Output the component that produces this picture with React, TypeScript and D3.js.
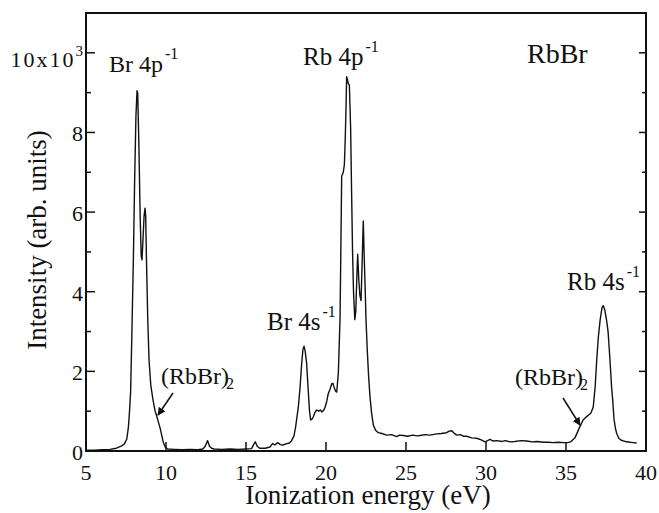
import * as d3 from 'd3';

// photoelectron spectrum of RbBr, intensity in units of 10^3
const energy = [
  5.0, 5.5, 6.0, 6.5, 6.9, 7.2, 7.4, 7.55, 7.65, 7.72, 7.79, 7.87, 7.96, 8.04, 8.12, 8.19, 8.23,
  8.3, 8.38, 8.45, 8.5, 8.56, 8.63, 8.69, 8.73, 8.78, 8.86, 8.94, 9.05, 9.2, 9.32, 9.42, 9.53,
  9.63, 9.73, 9.83, 9.95, 10.1, 10.5, 11.0, 11.5, 12.0, 12.3, 12.45, 12.6, 12.72, 12.85, 13.0,
  13.5, 14.0, 14.5, 15.0, 15.35, 15.5, 15.58, 15.7, 15.85, 16.2, 16.5, 16.67, 16.8, 16.98, 17.15,
  17.3, 17.5, 17.71, 17.85, 18.0, 18.1, 18.2, 18.27, 18.38, 18.48, 18.56, 18.63, 18.7, 18.79,
  18.9, 18.97, 19.04, 19.12, 19.21, 19.32, 19.42, 19.55, 19.65, 19.73, 19.85, 19.94, 20.05,
  20.14, 20.25, 20.36, 20.43, 20.5, 20.6, 20.67, 20.77, 20.88, 20.94, 20.98, 21.08, 21.15, 21.2,
  21.25, 21.29, 21.33, 21.39, 21.46, 21.54, 21.6, 21.66, 21.72, 21.8, 21.86, 21.93, 21.98, 22.05,
  22.12, 22.19, 22.25, 22.33, 22.38, 22.44, 22.5, 22.58, 22.66, 22.75, 22.85, 22.96, 23.1, 23.27,
  23.5, 23.79, 24.1, 24.42, 24.6, 24.83, 25.1, 25.4, 25.7, 25.88, 26.2, 26.5, 26.92, 27.2, 27.54,
  27.7, 27.86, 28.0, 28.17, 28.4, 28.6, 28.79, 29.1, 29.42, 29.7, 29.94, 30.1, 30.25, 30.45, 30.67,
  31.0, 31.2, 31.5, 31.8, 32.2, 32.54, 32.9, 33.2, 33.58, 33.9, 34.2, 34.5, 34.83, 35.1, 35.3,
  35.56, 35.8, 36.07, 36.25, 36.4, 36.55, 36.7, 36.82, 36.92, 37.02, 37.13, 37.25, 37.33, 37.42,
  37.53, 37.63, 37.75, 37.85, 37.92, 38.0, 38.1, 38.17, 38.3, 38.45, 38.7, 39.0, 39.2, 39.42,
];
const intensity = [
  0.02, 0.02, 0.03, 0.04, 0.07, 0.12, 0.18, 0.3, 0.6, 1.0, 1.5, 3.0, 4.8, 6.8, 8.4, 9.05, 9.0,
  7.8, 6.0, 4.9, 4.8, 5.3, 5.9, 6.1, 5.9, 4.8, 3.3, 2.28, 1.65, 1.25, 1.0, 0.88, 0.72,
  0.58, 0.4, 0.22, 0.1, 0.05, 0.04, 0.03, 0.04, 0.03, 0.05, 0.12, 0.26, 0.12, 0.07, 0.05,
  0.04, 0.05, 0.04, 0.05, 0.06, 0.18, 0.23, 0.12, 0.07, 0.07, 0.1, 0.19, 0.15, 0.21, 0.16,
  0.15, 0.18, 0.2, 0.26, 0.38, 0.6, 0.9, 1.1, 1.6, 2.2, 2.55, 2.63, 2.5, 2.2,
  1.45, 1.0, 0.78, 0.8, 0.86, 0.98, 1.03, 1.0, 1.03, 0.98, 1.02, 1.1, 1.25,
  1.44, 1.55, 1.69, 1.7, 1.61, 1.5, 1.48, 1.95, 3.36, 5.5, 6.9, 7.0, 7.2, 7.8,
  8.6, 9.4, 9.35, 9.23, 9.19, 8.1, 6.5, 5.0, 4.0, 3.3, 3.5, 4.4, 4.94, 4.3,
  3.9, 3.78, 4.6, 5.78, 5.0, 4.19, 3.3, 2.53, 1.9, 1.36, 0.95, 0.65, 0.52, 0.46,
  0.44, 0.4, 0.41, 0.36, 0.4, 0.39, 0.37, 0.4, 0.38, 0.39, 0.41, 0.4, 0.43, 0.44, 0.46,
  0.5, 0.51, 0.45, 0.4, 0.41, 0.37, 0.37, 0.33, 0.32, 0.28, 0.23, 0.26, 0.29, 0.25, 0.26,
  0.24, 0.26, 0.23, 0.24, 0.26, 0.25, 0.23, 0.24, 0.22, 0.22, 0.21, 0.22, 0.21, 0.21, 0.23,
  0.33, 0.55, 0.78, 0.85, 0.9, 0.95, 1.1, 1.6, 2.28, 2.85, 3.28, 3.6, 3.65, 3.55,
  3.3, 3.0, 2.28, 1.6, 1.28, 0.8, 0.55, 0.44, 0.32, 0.27, 0.24, 0.22, 0.21, 0.2,
];

const xTicks = [5, 10, 15, 20, 25, 30, 35, 40];
const yMajorTicks = [0, 2, 4, 6, 8, 10];
const yMinorTicks = [1, 3, 5, 7, 9];

// peak labels: main text, superscript
const peakLabels = [
  { text: 'Br 4p', sup: '-1', x: 109, y: 72, size: 24 },
  { text: 'Rb 4p', sup: '-1', x: 303, y: 65, size: 25 },
  { text: 'Br 4s', sup: '-1', x: 267, y: 330, size: 25 },
  { text: 'Rb 4s', sup: '-1', x: 567, y: 290, size: 25 },
];

const W = 659;
const H = 513;
const INK = '#111';

export default function App() {
  const left = 86, right = 646, top = 13, bottom = 451;

  const x = d3.scaleLinear().domain([5, 40]).range([left, right]);
  const y = d3.scaleLinear().domain([0, 11]).range([bottom, top]);

  const pts = energy.map((e, i) => [e, intensity[i]] as [number, number]);
  const line = d3.line<[number, number]>()
    .x(d => x(d[0]))
    .y(d => y(d[1]));

  const font = { fontFamily: "'Liberation Serif'" };

  const arrows = [[173, 393, 158, 415], [563, 398, 580, 425]];
  const dimers = [[161, 384], [515, 385]];

  return (
    <div style={{ position: 'absolute', left: 0, top: 0, width: W, height: H, background: '#fff' }}>
      <svg width={W} height={H} style={font}>
        <defs>
          <marker id="arrowhead" viewBox="0 0 10 10" refX={9} refY={5} markerWidth={8} markerHeight={8}
            markerUnits="userSpaceOnUse" orient="auto">
            <path d="M0,0 L10,5 L0,10 Z" fill={INK} />
          </marker>
        </defs>

        <path d={line(pts) || ''} fill="none" stroke={INK} strokeWidth={1.4} strokeLinejoin="round" />

        {/* ticks, pointing inward */}
        <g stroke={INK} strokeWidth={1.5}>
          {xTicks.slice(1, -1).map(t => (
            <line key={'x' + t} x1={x(t)} x2={x(t)} y1={bottom} y2={bottom - 9} />
          ))}
          {yMajorTicks.map(t => (
            <g key={'ym' + t}>
              <line x1={left} x2={left + 9} y1={y(t)} y2={y(t)} />
              <line x1={right} x2={right - 7} y1={y(t)} y2={y(t)} />
            </g>
          ))}
          {yMinorTicks.map(t => (
            <g key={'yn' + t}>
              <line x1={left} x2={left + 5} y1={y(t)} y2={y(t)} />
              <line x1={right} x2={right - 4} y1={y(t)} y2={y(t)} />
            </g>
          ))}
        </g>

        <rect x={left} y={top} width={right - left} height={bottom - top} fill="none" stroke={INK} strokeWidth={2} />

        {xTicks.map(t => (
          <text key={'xl' + t} x={x(t)} y={bottom + 29} textAnchor="middle" fill={INK}
            style={{ ...font, fontSize: '22px' }}>{t}</text>
        ))}
        {yMajorTicks.map(t => (
          <text key={'yl' + t} x={left - 3} y={y(t) + (t === 10 ? 14 : 9)} textAnchor="end" fill={INK}
            style={{ ...font, fontSize: '22px' }}>
            {t === 10 ? (
              <>
                <tspan style={{ letterSpacing: '2px' }}>10x10</tspan>
                <tspan dy={-11} style={{ fontSize: '15px' }}>3</tspan>
              </>
            ) : String(t)}
          </text>
        ))}

        <text x={(left + right) / 2 + 2} y={504} textAnchor="middle" fill={INK}
          style={{ ...font, fontSize: '27px' }}>Ionization energy (eV)</text>
        <text transform="translate(46,240) rotate(-90)" textAnchor="middle" fill={INK}
          style={{ ...font, fontSize: '27px' }}>Intensity (arb. units)</text>

        {peakLabels.map(p => (
          <text key={p.text} x={p.x} y={p.y} fill={INK} style={{ ...font, fontSize: `${p.size}px` }}>
            <tspan>{p.text}</tspan>
            <tspan dx={2} dy={-13} style={{ fontSize: '16px' }}>{p.sup}</tspan>
          </text>
        ))}
        <text x={527} y={63} fill={INK} style={{ ...font, fontSize: '28px' }}>RbBr</text>

        {dimers.map(([px, py]) => (
          <text key={'d' + px} x={px} y={py} fill={INK} style={{ ...font, fontSize: '24px' }}>
            <tspan>(RbBr)</tspan>
            <tspan dx={-3} dy={5} style={{ fontSize: '16px' }}>2</tspan>
          </text>
        ))}

        {arrows.map(([x1, y1, x2, y2]) => (
          <line key={'a' + x1} x1={x1} y1={y1} x2={x2} y2={y2} stroke={INK} strokeWidth={1.5}
            markerEnd="url(#arrowhead)" />
        ))}
      </svg>
    </div>
  );
}
